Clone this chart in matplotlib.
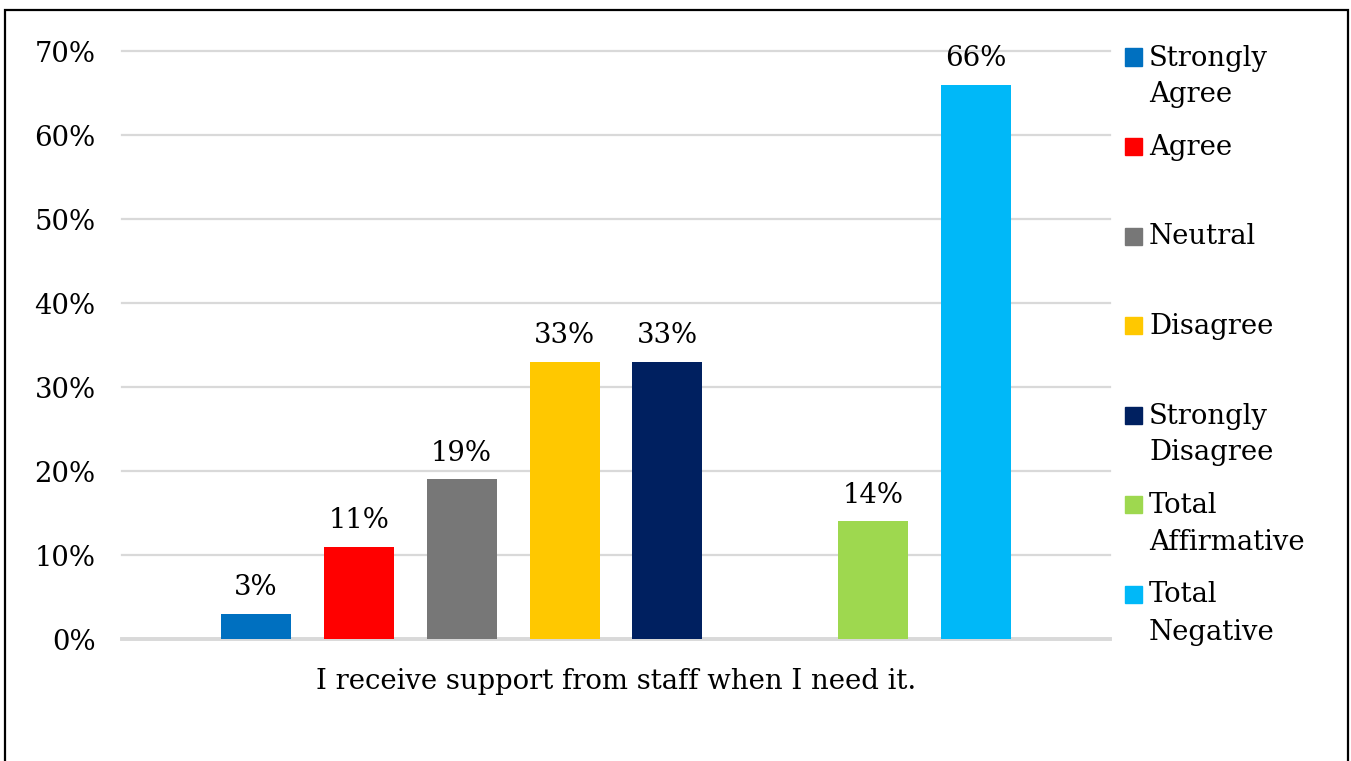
import textwrap
import matplotlib
matplotlib.use("Agg")
import matplotlib.pyplot as plt
from matplotlib.patches import Rectangle
from matplotlib.ticker import PercentFormatter

# ---- data ----
categories = ["Strongly Agree", "Agree", "Neutral", "Disagree",
              "Strongly Disagree", "Total Affirmative", "Total Negative"]
values = [0.03, 0.11, 0.19, 0.33, 0.33, 0.14, 0.66]
slots = [0, 1, 2, 3, 4, 6, 7]   # slot 5 left empty as in the original
colors = ["#0070C0", "#FF0000", "#777777", "#FFC800",
          "#002060", "#9ED84F", "#00B8F8"]
question = "I receive support from staff when I need it."
yticks = [0, 0.1, 0.2, 0.3, 0.4, 0.5, 0.6, 0.7]

W, H = 1351, 761
plt.rcParams['font.family'] = ['DejaVu Serif']
FS = 19.8

fig = plt.figure(figsize=(W / 100, H / 100), dpi=100)
fig.patch.set_facecolor("white")

left, right, top0, bottom0 = 122, 1110, 51, 639
ax = fig.add_axes([left / W, (H - bottom0) / H, (right - left) / W, (bottom0 - top0) / H])

bars = ax.bar(slots, values, width=0.68, color=colors, zorder=3)
for b, v in zip(bars, values):
    ax.annotate(f"{round(v * 100)}%", (b.get_x() + b.get_width() / 2, v),
                xytext=(0, 9), textcoords="offset points",
                ha="center", va="bottom", fontsize=FS, color="black")

ax.set_xlim(-1.30, 8.30)
ax.set_ylim(0, 0.7)
ax.set_yticks(yticks)
ax.yaxis.set_major_formatter(PercentFormatter(1.0, decimals=0))
ax.set_xticks([])
ax.tick_params(axis="y", length=0, pad=19, labelsize=FS)
for s in ax.spines.values():
    s.set_visible(False)
ax.grid(axis="y", color="#D9D9D9", linewidth=1.6, zorder=0)
for gl in ax.get_ygridlines():
    gl.set_clip_on(False)
ax.axhline(0, color="#D9D9D9", linewidth=2.8, zorder=2, clip_on=False)
ax.set_xlabel(question, fontsize=FS, labelpad=21)

# ---- legend (manual, to match layout) ----
y0, step, line_h = 57, 89.5, 37
sq = 17
for i, (c, lab) in enumerate(zip(colors, categories)):
    yc = y0 + i * step
    fig.add_artist(Rectangle((1125 / W, (H - yc - sq / 2) / H), sq / W, sq / H,
                             transform=fig.transFigure, color=c))
    lines = textwrap.fill(lab, width=9, break_long_words=False).split("\n")
    for j, ln in enumerate(lines):
        fig.text(1149 / W, (H - yc - 1 - j * line_h) / H, ln, fontsize=FS,
                 ha="left", va="center", color="black")

# ---- outer border ----
fig.add_artist(Rectangle((5 / W, -0.05), 1343 / W, (H - 9.5) / H + 0.05,
                         transform=fig.transFigure, fill=False,
                         edgecolor="black", linewidth=1.6, clip_on=False))

fig.savefig("out.png", dpi=100)
